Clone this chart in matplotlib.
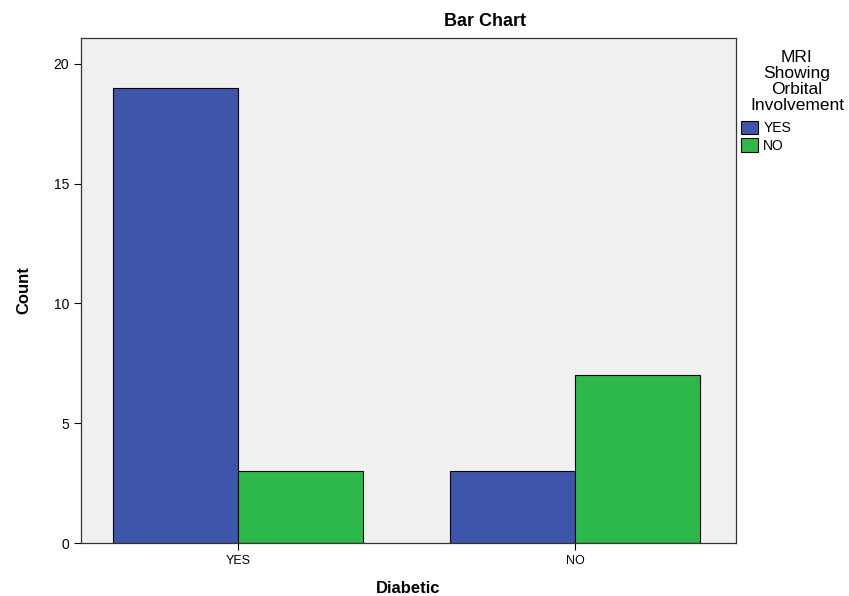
import numpy as np
import matplotlib.pyplot as plt
from matplotlib.patches import Patch

plt.rcParams['font.family'] = ['Liberation Sans', 'DejaVu Sans']

categories = ['YES', 'NO']
series_names = ['YES', 'NO']
counts_yes = [19, 3]
counts_no = [3, 7]

BLUE = '#3d56ab'
GREEN = '#2fb84a'

fig = plt.figure(figsize=(8.49, 5.96), dpi=100)
ax = fig.add_axes([0.0954, 0.0889, 0.7715, 0.8473])
ax.set_facecolor('#f0f0f0')

x = np.arange(len(categories))
w = 0.37
ax.bar(x - w / 2, counts_yes, width=w, color=BLUE, edgecolor='black', linewidth=0.8)
ax.bar(x + w / 2, counts_no, width=w, color=GREEN, edgecolor='black', linewidth=0.8)

ax.set_xlim(-0.466, 1.478)
ax.set_ylim(0, 21.08)
ax.set_xticks(x)
ax.set_xticklabels(categories, fontsize=9)
ax.set_yticks([0, 5, 10, 15, 20])
ax.tick_params(axis='y', labelsize=10, direction='out', length=5, width=0.8)
ax.tick_params(axis='x', direction='out', length=5, width=0.8)
for s in ax.spines.values():
    s.set_color('#333333')
    s.set_linewidth(0.9)

ax.set_xlabel('Diabetic', fontsize=12, fontweight='bold', labelpad=10)
ax.set_ylabel('Count', fontsize=12, fontweight='bold', labelpad=16)
fig.text(485 / 849, 1 - 22 / 596, 'Bar Chart', fontsize=13, fontweight='bold',
         ha='center', va='center')

# legend title drawn separately so it can be centred over its own column
fig.text(797 / 849, 1 - 50 / 596, 'MRI\nShowing\nOrbital\nInvolvement',
         fontsize=12.5, ha='center', va='top', linespacing=1.07)

handles = [Patch(facecolor=BLUE, edgecolor='black', linewidth=0.8),
           Patch(facecolor=GREEN, edgecolor='black', linewidth=0.8)]
fig.legend(handles, series_names,
           loc='upper left', bbox_to_anchor=(741 / 849, 1 - 121 / 596),
           frameon=False, fontsize=10,
           handlelength=1.25, handleheight=1.1, handletextpad=0.35,
           labelspacing=0.2, borderaxespad=0, borderpad=0)

fig.savefig('out.png', dpi=100)
